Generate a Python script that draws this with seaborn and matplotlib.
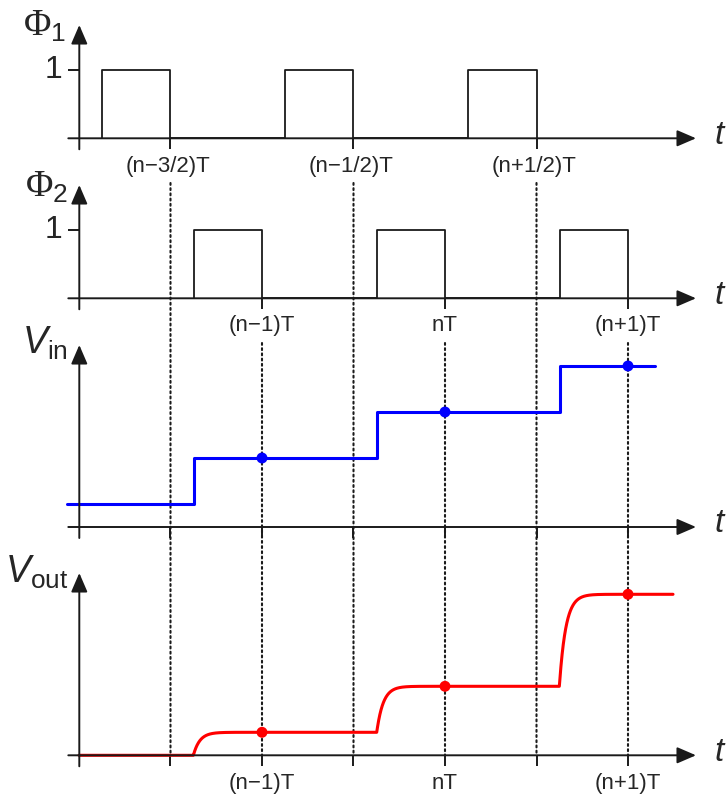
import numpy as np
import matplotlib
matplotlib.use("Agg")
import matplotlib.pyplot as plt
import seaborn as sns
from matplotlib.patches import ConnectionPatch

# ---------------- data (time in units of T, relative to nT) ----------------
phi1_rise = [-1.873, -0.873, 0.127]
phi1_fall = [-1.5, -0.5, 0.5]
phi2_rise = [-1.372, -0.372, 0.628]
phi2_fall = [-1.0, 0.0, 1.0]
half_ticks = [-1.5, -0.5, 0.5]
half_labels = ["(n\u22123/2)T", "(n\u22121/2)T", "(n+1/2)T"]
int_ticks = [-1.0, 0.0, 1.0]
int_labels = ["(n\u22121)T", "nT", "(n+1)T"]
all_ticks = [-1.5, -1.0, -0.5, 0.0, 0.5, 1.0]
vin_step_t = [-1.372, -0.372, 0.628]
vin_levels = [0.5, 1.5, 2.5, 3.5]
vin_span = [-2.065, 1.148]
vout_step_t = [-1.375, -0.373, 0.625]
vout_levels = [0.0, 0.5, 1.5, 3.5]
vout_span = [-2.0, 1.246]
sample_t = [-1.0, 0.0, 1.0]
vin_samples = [1.5, 2.5, 3.5]
vout_samples = [0.5, 1.5, 3.5]
tau = 0.035  # settling time constant of the output (in T)

# ---------------- style ----------------
sns.set_theme(style="white")
plt.rcParams["font.family"] = ["Liberation Sans", "DejaVu Sans"]
plt.rcParams["mathtext.fontset"] = "custom"
plt.rcParams["mathtext.rm"] = "Liberation Serif"
plt.rcParams["mathtext.sf"] = "Liberation Sans"
plt.rcParams["mathtext.it"] = "Liberation Sans:italic"

W, H, DPI = 727, 795, 100
X0_PX, T_PX = 445.0, 183.0
BLUE, RED = "#0000ff", "#ff0000"
LW_AX = 1.4

fig = plt.figure(figsize=(W / DPI, H / DPI), dpi=DPI)
fig.patch.set_facecolor("white")


def tx(px):
    return (px - X0_PX) / T_PX


# band_top, band_bottom, baseline_px, unit_px, arrow_tip_px
panels = [
    (0, 180, 138.3, 68.0, 25.0),
    (180, 340, 298.3, 68.3, 185.0),
    (340, 560, 527.0, 46.0, 345.0),
    (560, 795, 755.3, 46.0, 573.0),
]
axes = []
for (bt, bb, base, u, tip) in panels:
    ax = fig.add_axes([0, 1 - bb / H, 1, (bb - bt) / H])
    ax.set_xlim(tx(0), tx(W))
    ax.set_ylim(-(bb - base) / u, (base - bt) / u)
    ax.axis("off")
    axes.append(ax)


def py(i, px):
    _, _, base, u, _ = panels[i]
    return (base - px) / u


arrow_style = "-|>,head_length=0.58,head_width=0.25"
for i, ax in enumerate(axes):
    _, _, base, u, tip = panels[i]
    # horizontal t axis
    ax.annotate("", xy=(tx(696), 0), xytext=(tx(68.3), 0),
                arrowprops=dict(arrowstyle=arrow_style, mutation_scale=20, lw=LW_AX,
                                color="k", shrinkA=0, shrinkB=0))
    # vertical axis
    ax.annotate("", xy=(tx(79.3), py(i, tip)), xytext=(tx(79.3), -11 / u),
                arrowprops=dict(arrowstyle=arrow_style, mutation_scale=20, lw=LW_AX,
                                color="k", shrinkA=0, shrinkB=0))
    ax.text(tx(719), py(i, base - 3), "t", fontsize=24, style="italic",
            ha="center", va="center")

# ---- ticks ----
axes[0].vlines(half_ticks, -11 / 68.0, 0, color="k", lw=LW_AX)
axes[1].vlines(int_ticks, -11 / 68.3, 0, color="k", lw=LW_AX)
axes[2].vlines(all_ticks, -11 / 46.0, 0, color="k", lw=LW_AX)
axes[3].vlines(all_ticks, -11 / 46.0, 0, color="k", lw=LW_AX)
for ax in axes[:2]:
    ax.hlines(1, tx(68.3), tx(79.3), color="k", lw=LW_AX)
    ax.text(tx(62), 1, "1", fontsize=23, ha="right", va="center")

for t, lab in zip(half_ticks, half_labels):
    axes[0].text(t - 0.015, py(0, 138.3 + 28), lab, fontsize=16, ha="center", va="center")
for t, lab in zip(int_ticks, int_labels):
    axes[1].text(t, py(1, 298.3 + 27), lab, fontsize=16, ha="center", va="center")
    axes[3].text(t, py(3, 755.3 + 28), lab, fontsize=16, ha="center", va="center")

# ---- axis names ----
axes[0].text(tx(66), py(0, 25.5), r"$\Phi_\mathsf{1}$", fontsize=27, ha="right", va="center")
axes[1].text(tx(68), py(1, 187), r"$\Phi_\mathsf{2}$", fontsize=27, ha="right", va="center")
axes[2].text(tx(68), py(2, 343), r"$V_\mathsf{in}$", fontsize=27, ha="right", va="center")
axes[3].text(tx(68), py(3, 572), r"$V_\mathsf{out}$", fontsize=27, ha="right", va="center")


# ---- clock pulses ----
def pulse_xy(rises, falls):
    xs, ys = [], []
    for r, f in zip(rises, falls):
        xs += [r, r, f, f]
        ys += [0, 1, 1, 0]
    return xs, ys


for ax, (r, f) in zip(axes[:2], [(phi1_rise, phi1_fall), (phi2_rise, phi2_fall)]):
    xs, ys = pulse_xy(r, f)
    sns.lineplot(x=xs, y=ys, ax=ax, sort=False, estimator=None, color="k", lw=1.3)

# ---- Vin (sampled-and-held staircase) ----
vin_x = [vin_span[0]] + vin_step_t + [vin_span[1]]
vin_y = vin_levels + [vin_levels[-1]]
sns.lineplot(x=vin_x, y=vin_y, ax=axes[2], sort=False, estimator=None,
             drawstyle="steps-post", color=BLUE, lw=2.2)
sns.scatterplot(x=sample_t, y=vin_samples, ax=axes[2], color=BLUE, s=62,
                edgecolor="none", zorder=5)

# ---- Vout (settling response) ----
tt = np.linspace(vout_span[0], vout_span[1], 3000)
vv = np.full_like(tt, vout_levels[0])
for k, s in enumerate(vout_step_t):
    d = vout_levels[k + 1] - vout_levels[k]
    vv += np.where(tt >= s, d * (1 - np.exp(-(tt - s) / tau)), 0.0)
sns.lineplot(x=tt, y=vv, ax=axes[3], sort=False, estimator=None, color=RED, lw=2.2)
sns.scatterplot(x=sample_t, y=vout_samples, ax=axes[3], color=RED, s=62,
                edgecolor="none", zorder=5)

for ax in axes:
    for ln in ax.lines:
        ln.set_clip_on(False)
    for c in ax.collections:
        c.set_clip_on(False)

# ---- dotted guide lines across panels ----
dot_style = (0, (0.9, 1.6))
for t in half_ticks:
    con = ConnectionPatch(xyA=(t, py(0, 183)), coordsA=axes[0].transData,
                          xyB=(t, 0), coordsB=axes[3].transData,
                          linestyle=dot_style, lw=1.5, color="k", zorder=-1)
    fig.add_artist(con)
for t in int_ticks:
    con = ConnectionPatch(xyA=(t, py(1, 343)), coordsA=axes[1].transData,
                          xyB=(t, 0), coordsB=axes[3].transData,
                          linestyle=dot_style, lw=1.5, color="k", zorder=-1)
    fig.add_artist(con)

fig.savefig("out.png", dpi=DPI, facecolor="white")
